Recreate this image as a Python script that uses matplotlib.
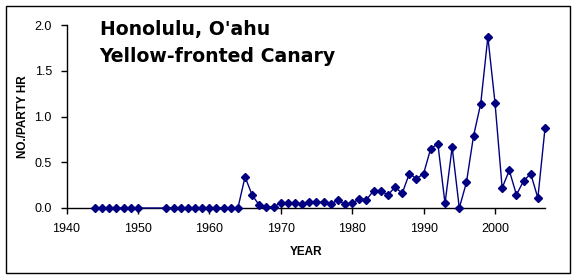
import matplotlib
matplotlib.use("Agg")
import matplotlib.pyplot as plt
from matplotlib.patches import Rectangle

plt.rcParams['font.family'] = ['Liberation Sans', 'DejaVu Sans']

years = [1944, 1945, 1946, 1947, 1948, 1949, 1950,
         1954, 1955, 1956, 1957, 1958, 1959, 1960, 1961, 1962, 1963, 1964,
         1965, 1966, 1967, 1968, 1969, 1970, 1971, 1972, 1973, 1974, 1975,
         1976, 1977, 1978, 1979, 1980, 1981, 1982, 1983, 1984, 1985, 1986,
         1987, 1988, 1989, 1990, 1991, 1992, 1993, 1994, 1995, 1996, 1997,
         1998, 1999, 2000, 2001, 2002, 2003, 2004, 2005, 2006, 2007]
values = [0, 0, 0, 0, 0, 0, 0,
          0, 0, 0, 0, 0, 0, 0, 0, 0, 0, 0,
          0.34, 0.14, 0.03, 0.015, 0.01, 0.06, 0.06, 0.05, 0.04, 0.065, 0.065,
          0.065, 0.04, 0.09, 0.04, 0.05, 0.10, 0.09, 0.19, 0.19, 0.14, 0.23,
          0.16, 0.375, 0.32, 0.375, 0.65, 0.70, 0.05, 0.665, 0.0, 0.28, 0.79,
          1.14, 1.87, 1.15, 0.22, 0.41, 0.145, 0.295, 0.375, 0.11, 0.87]

xticks = [1940, 1950, 1960, 1970, 1980, 1990, 2000]
yticks = [0.0, 0.5, 1.0, 1.5, 2.0]
title_lines = ["Honolulu, O'ahu", "Yellow-fronted Canary"]

W, H = 576, 278
fig = plt.figure(figsize=(W / 100, H / 100), dpi=100)
ax = fig.add_axes([66.5 / W, 1 - 208 / H, (545 - 66.5) / W, (208 - 25) / H])

ax.plot(years, values, color='#000080', linewidth=1.0, marker='D',
        markersize=4.2, markerfacecolor='#000080', markeredgecolor='#000080',
        clip_on=False, zorder=3)

ax.set_xlim(1940, 2007)
ax.set_ylim(0, 2.0)
ax.set_xticks(xticks)
ax.set_xticklabels([str(t) for t in xticks])
ax.set_yticks(yticks)
ax.set_yticklabels([f"{t:.1f}" for t in yticks])
ax.spines['top'].set_visible(False)
ax.spines['right'].set_visible(False)
for s in ('left', 'bottom'):
    ax.spines[s].set_linewidth(1.0)
    ax.spines[s].set_color('black')
ax.tick_params(axis='both', direction='out', length=4.5, width=1.0,
               labelsize=9, colors='black')
ax.tick_params(axis='x', pad=6)
ax.tick_params(axis='y', pad=6)

ax.set_xlabel('YEAR', fontsize=8.5, fontweight='bold', labelpad=8)
ax.set_ylabel('NO./PARTY HR', fontsize=8.5, fontweight='bold', labelpad=4)

for i, line in enumerate(title_lines):
    fig.text(99.5 / W, 1 - (35 + 26.7 * i) / H, line, fontsize=13.6,
             fontweight='bold', family=['DejaVu Sans'],
             ha='left', va='baseline')

fig.patches.append(Rectangle((5.5 / W, 1 - 272.5 / H), (570 - 5.5) / W,
                             (272.5 - 5.5) / H, transform=fig.transFigure,
                             fill=False, edgecolor='black', linewidth=1.0))

fig.savefig('out.png', dpi=100)
